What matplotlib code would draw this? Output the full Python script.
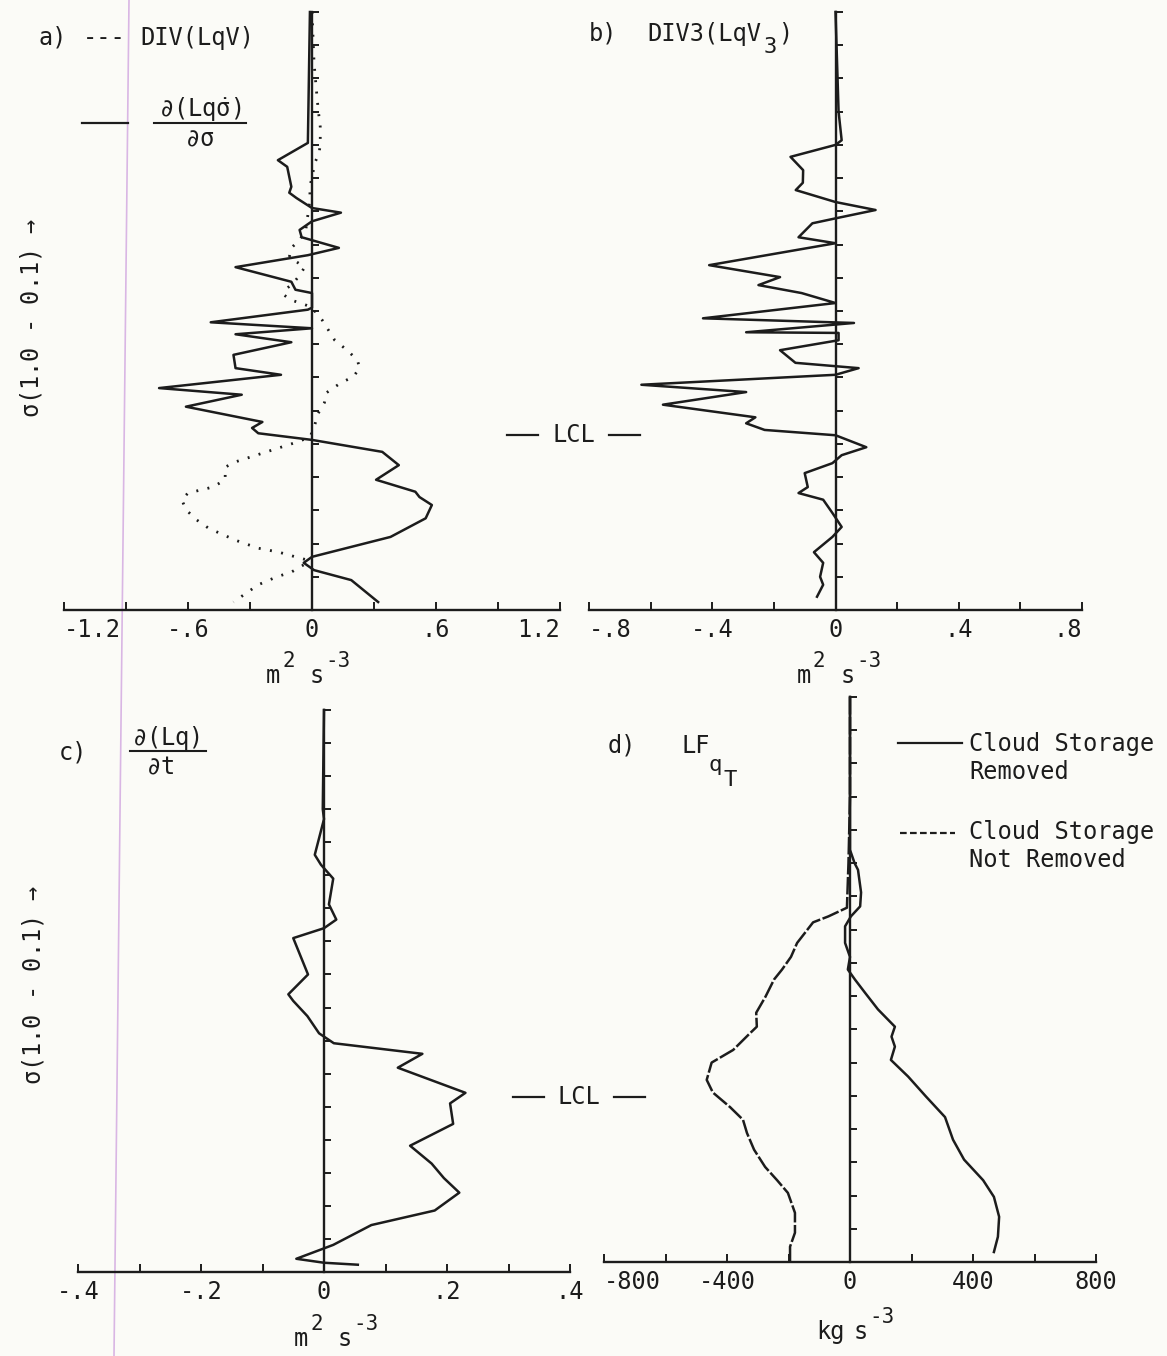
import matplotlib
matplotlib.use("Agg")
import matplotlib.pyplot as plt
from matplotlib.lines import Line2D
from matplotlib.ticker import MultipleLocator

W, H = 1167, 1356
INK = "#1c1c1c"

plt.rcParams["font.family"] = ["DejaVu Sans Mono", "DejaVu Sans"]
plt.rcParams["mathtext.fontset"] = "custom"
for k in ("rm", "it", "bf", "sf"):
    plt.rcParams["mathtext." + k] = "DejaVu Sans Mono"

# ---- panel a: DIV(LqV) (dotted) and d(Lq sigma-dot)/d sigma (solid), m2 s-3
a_sig_solid = [0.100, 0.297, 0.323, 0.333, 0.363, 0.372, 0.380, 0.395, 0.402, 0.415,
               0.428, 0.439, 0.455, 0.466, 0.484, 0.506, 0.518, 0.523, 0.545, 0.548,
               0.567, 0.576, 0.585, 0.597, 0.616, 0.636, 0.646, 0.666, 0.676, 0.694,
               0.717, 0.726, 0.734, 0.744, 0.762, 0.782, 0.804, 0.822, 0.830, 0.842,
               0.862, 0.890, 0.920, 0.929, 0.940, 0.955, 0.988]
a_solid = [-0.01, -0.02, -0.165, -0.12, -0.10, -0.11, -0.075, 0.00, 0.14, 0.00,
           -0.06, -0.05, 0.13, -0.02, -0.37, -0.10, -0.08, 0.00, 0.00, -0.02,
           -0.49, 0.00, -0.37, -0.10, -0.38, -0.37, -0.15, -0.74, -0.34, -0.61,
           -0.24, -0.29, -0.26, 0.00, 0.34, 0.42, 0.31, 0.50, 0.52, 0.58,
           0.55, 0.38, 0.00, -0.04, 0.01, 0.19, 0.32]

a_sig_dot = [0.100, 0.177, 0.213, 0.247, 0.273, 0.297, 0.312, 0.326, 0.363, 0.383,
             0.428, 0.443, 0.455, 0.469, 0.484, 0.496, 0.508, 0.518, 0.526, 0.533,
             0.541, 0.545, 0.564, 0.579, 0.594, 0.609, 0.624, 0.636, 0.649, 0.658,
             0.673, 0.688, 0.704, 0.725, 0.740, 0.749, 0.764, 0.777, 0.785, 0.794,
             0.804, 0.815, 0.824, 0.834, 0.849, 0.864, 0.877, 0.895, 0.907, 0.913,
             0.920, 0.925, 0.932, 0.943, 0.950, 0.962, 0.988]
a_dot = [0.00, 0.01, 0.02, 0.03, 0.04, 0.04, 0.035, 0.015, -0.01, -0.01,
         -0.03, -0.06, -0.10, -0.11, -0.035, -0.06, -0.09, -0.13, -0.135, -0.105,
         -0.03, 0.00, 0.05, 0.08, 0.11, 0.17, 0.22, 0.23, 0.20, 0.14,
         0.07, 0.06, 0.03, 0.01, -0.01, -0.09, -0.24, -0.37, -0.42, -0.42,
         -0.42, -0.48, -0.60, -0.63, -0.61, -0.56, -0.50, -0.37, -0.26, -0.16,
         -0.08, -0.02, -0.04, -0.10, -0.17, -0.26, -0.38]

# ---- panel b: DIV3(LqV3), m2 s-3
b_sig = [0.100, 0.250, 0.293, 0.300, 0.318, 0.338, 0.357, 0.368, 0.386, 0.398,
         0.410, 0.418, 0.439, 0.448, 0.481, 0.499, 0.511, 0.523, 0.538, 0.561,
         0.568, 0.582, 0.583, 0.594, 0.609, 0.628, 0.636, 0.646, 0.661, 0.672,
         0.691, 0.710, 0.719, 0.729, 0.737, 0.755, 0.767, 0.779, 0.794, 0.815,
         0.824, 0.834, 0.854, 0.875, 0.890, 0.913, 0.929, 0.950, 0.962, 0.980]
b_vals = [0.00, 0.01, 0.02, 0.00, -0.146, -0.105, -0.106, -0.129, 0.00, 0.13,
          0.006, -0.075, -0.12, 0.00, -0.41, -0.18, -0.25, -0.11, 0.00, -0.43,
          0.06, -0.29, 0.01, 0.01, -0.18, -0.13, 0.075, 0.00, -0.63, -0.29,
          -0.56, -0.26, -0.29, -0.23, 0.00, 0.10, 0.02, -0.01, -0.10, -0.09,
          -0.12, -0.04, -0.01, 0.02, -0.01, -0.07, -0.04, -0.05, -0.04, -0.06]

# ---- panel c: d(Lq)/dt, m2 s-3
c_sig = [0.150, 0.300, 0.315, 0.369, 0.384, 0.405, 0.444, 0.467, 0.480, 0.495,
         0.550, 0.580, 0.590, 0.613, 0.639, 0.654, 0.670, 0.691, 0.729, 0.745,
         0.776, 0.809, 0.836, 0.858, 0.880, 0.907, 0.929, 0.959, 0.980, 0.986, 0.989]
c_vals = [0.000, -0.002, 0.000, -0.015, -0.005, 0.015, 0.008, 0.020, 0.000, -0.050,
          -0.026, -0.058, -0.050, -0.027, -0.008, 0.016, 0.160, 0.120, 0.230, 0.205,
          0.210, 0.140, 0.175, 0.195, 0.220, 0.180, 0.077, 0.015, -0.045, 0.000, 0.055]

# ---- panel d: LF_qT, kg s-3
d_sig_rem = [0.150, 0.380, 0.400, 0.410, 0.444, 0.465, 0.480, 0.495, 0.520, 0.541,
             0.560, 0.575, 0.595, 0.620, 0.646, 0.661, 0.676, 0.696, 0.721, 0.751,
             0.782, 0.816, 0.846, 0.877, 0.902, 0.932, 0.962, 0.985]
d_removed = [0, 0, 15, 26, 36, 33, 3, -16, -16, 0,
             -7, 16, 49, 91, 146, 135, 146, 133, 189, 247,
             309, 335, 371, 433, 468, 485, 481, 468]

d_sig_not = [0.150, 0.300, 0.400, 0.467, 0.480, 0.489, 0.520, 0.541, 0.560, 0.575,
             0.601, 0.625, 0.646, 0.658, 0.681, 0.700, 0.726, 0.745, 0.767, 0.786,
             0.806, 0.831, 0.857, 0.877, 0.896, 0.926, 0.956, 0.977, 1.000]
d_not_removed = [0, 0, -5, -10, -70, -120, -172, -192, -221, -247,
                 -275, -305, -303, -330, -380, -450, -466, -446, -390, -348,
                 -335, -312, -276, -237, -202, -179, -179, -195, -195]

fig = plt.figure(figsize=(W / 100, H / 100), dpi=100, facecolor="#fbfbf7")


def rect(x0, y0, x1, y1):
    # pixel box (top-left origin) -> figure fraction
    return [x0 / W, 1 - y1 / H, (x1 - x0) / W, (y1 - y0) / H]


def put(x, y, s, size=17, **kw):
    kw.setdefault("va", "center")
    fig.text(x / W, 1 - y / H, s, fontsize=size, color=INK, **kw)


def seg(x0, y0, x1, y1, **kw):
    kw.setdefault("lw", 1.6)
    fig.add_artist(Line2D([x0 / W, x1 / W], [1 - y0 / H, 1 - y1 / H],
                          color=INK, transform=fig.transFigure, **kw))


def units(x, y, parts):
    # parts: (text, dx, raised) laid out from x along baseline y
    for s, dx, up in parts:
        put(x + dx, y - (16 if up else 0), s, size=15 if up else 17, va="baseline")


def panel(box, xlim, ylim, major, minor, labels, aligns):
    ax = fig.add_axes(rect(*box))
    ax.set_facecolor("none")
    ax.set_xlim(*xlim)
    ax.set_ylim(*ylim)
    for s in ("top", "right"):
        ax.spines[s].set_visible(False)
    ax.spines["left"].set_position(("data", 0))
    for s in ("left", "bottom"):
        ax.spines[s].set_linewidth(1.7)
        ax.spines[s].set_color(INK)
    ax.set_xticks(major)
    ax.set_xticklabels(labels)
    ax.xaxis.set_minor_locator(MultipleLocator(minor))
    ax.yaxis.set_major_locator(MultipleLocator(0.05))
    ax.tick_params(axis="x", which="both", direction="in", length=6, width=1.4,
                   pad=6, labelsize=17, colors=INK)
    ax.tick_params(axis="y", direction="in", length=5, width=1.4,
                   labelleft=False, colors=INK)
    for t, a in zip(ax.get_xticklabels(), aligns):
        t.set_ha(a)
    return ax


lw = 1.8

# a)
ax = panel((64, 12, 560, 610), (-1.2, 1.2), (1.0, 0.1), [-1.2, -0.6, 0, 0.6, 1.2], 0.3,
           ["-1.2", "-.6", "0", ".6", "1.2"], ["left", "center", "center", "center", "right"])
ax.plot(a_solid, a_sig_solid, color=INK, lw=lw, clip_on=False)
ax.plot(a_dot, a_sig_dot, color=INK, lw=2.0, ls=(0, (0.7, 3.4)), clip_on=False)

# b)
ax = panel((589, 12, 1082, 610), (-0.8, 0.8), (1.0, 0.1), [-0.8, -0.4, 0, 0.4, 0.8], 0.2,
           ["-.8", "-.4", "0", ".4", ".8"], ["left", "center", "center", "center", "right"])
ax.plot(b_vals, b_sig, color=INK, lw=lw, clip_on=False)

# c)
ax = panel((78, 710, 570, 1272), (-0.4, 0.4), (1.0, 0.15), [-0.4, -0.2, 0, 0.2, 0.4], 0.1,
           ["-.4", "-.2", "0", ".2", ".4"], ["center"] * 5)
ax.plot(c_vals, c_sig, color=INK, lw=lw, clip_on=False)

# d)
ax = panel((604, 697, 1096, 1262), (-800, 800), (1.0, 0.15), [-800, -400, 0, 400, 800], 200,
           ["-800", "-400", "0", "400", "800"], ["left", "center", "center", "center", "center"])
ax.plot(d_removed, d_sig_rem, color=INK, lw=lw, clip_on=False)
ax.plot(d_not_removed, d_sig_not, color=INK, lw=lw, ls=(0, (7, 1.0)), clip_on=False)

# ---- annotations
put(39, 38, "a)")
put(83, 38, "---")
put(140, 38, "DIV(LqV)")
seg(82, 123, 128, 123)
put(200, 109, r"$\partial(\mathrm{Lq}\dot{\sigma})$", ha="center")
seg(154, 123, 246, 123, lw=1.5)
put(200, 138, r"$\partial\sigma$", ha="center")

put(589, 34, "b)")
put(647, 34, "DIV3(LqV")
put(764, 47, "3", size=16)
put(778, 34, ")")

put(59, 752, "c)")
put(166, 738, r"$\partial$(Lq)", ha="center")
seg(130, 751, 206, 751, lw=1.5)
put(160, 766, r"$\partial$t", ha="center")

put(608, 746, "d)")
put(681, 746, "LF")
put(708, 765, "q", size=16)
put(723, 780, "T", size=16)

seg(898, 743, 962, 743)
put(969, 744, "Cloud Storage")
put(969, 772, "Removed")
seg(900, 833, 955, 833, ls=(0, (3, 1.5)))
put(969, 832, "Cloud Storage")
put(969, 860, "Not Removed")

for x0, x1, y in ((507, 640, 435), (513, 645, 1097)):
    seg(x0, y, x0 + 31, y)
    seg(x1 - 31, y, x1, y)
    put((x0 + x1) / 2, y, "LCL", ha="center")

m_parts = [("m", 0, False), ("2", 16, True), ("s", 44, False), ("-3", 59, True)]
units(266, 683, m_parts)
units(797, 683, m_parts)
units(294, 1346, m_parts)
units(816, 1339, [("kg", 0, False), ("s", 38, False), ("-3", 53, True)])

put(31, 318, r"$\sigma$(1.0 - 0.1) →", rotation=90, ha="center")
put(33, 985, r"$\sigma$(1.0 - 0.1) →", rotation=90, ha="center")

# faint margin line of the scanned page
fig.add_artist(Line2D([129 / W, 114 / W], [1, 0], color="#d9b6e4", lw=1.2,
                      transform=fig.transFigure, zorder=0))

fig.savefig("out.png", dpi=100, facecolor=fig.get_facecolor())
